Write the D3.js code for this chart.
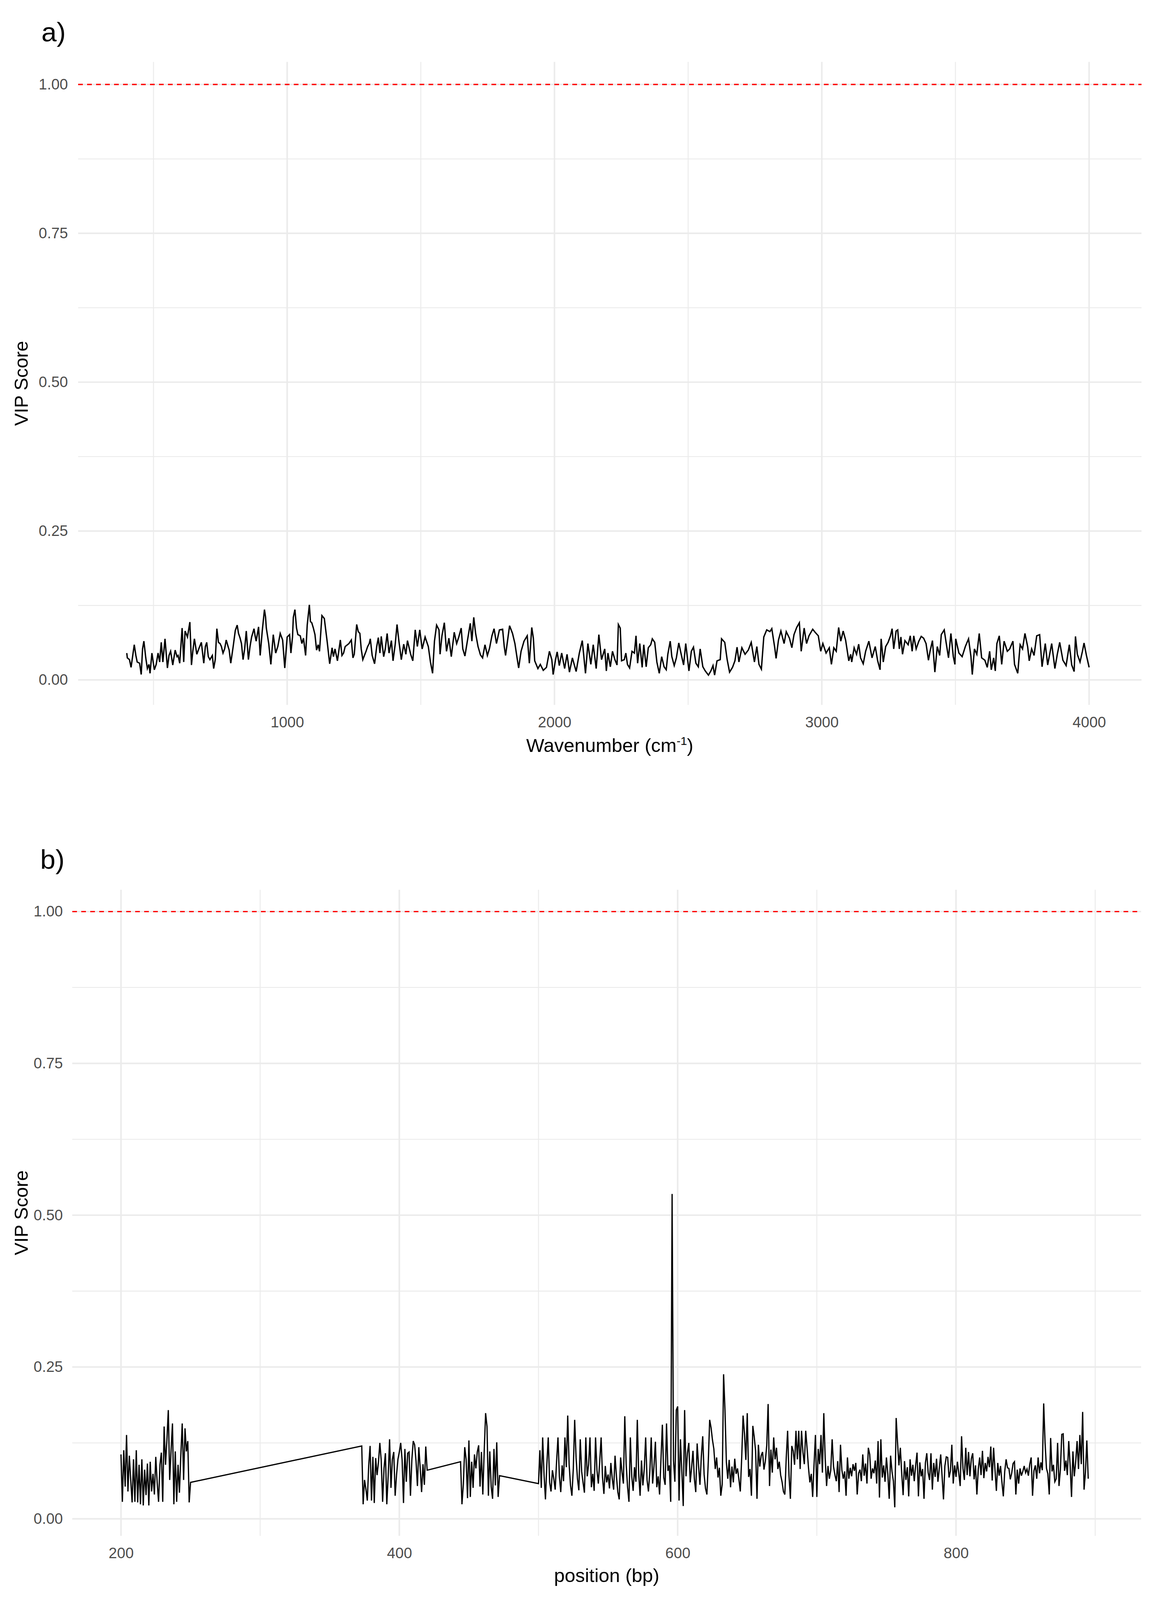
<!DOCTYPE html>
<html lang="en">
<head>
  <meta charset="UTF-8">
  <title>VIP Scores</title>
  <script src="https://d3js.org/d3.v7.min.js"></script>
  <style>
    html, body { margin: 0; padding: 0; background: #fff; overflow: hidden; }
    svg { display: block; }
    svg text { font-family: "Liberation Sans", Arial, sans-serif; }
  </style>
</head>
<body>
  <svg id="chart" viewBox="0 0 2954 4138" preserveAspectRatio="none"></svg>

  <script>
    // ---- panel a: wavenumber vs VIP score ----
    const wavenumberA = [
      400,402,410,416,428,434,439,448,454,459,
      464,471,477,483,487,494,503,510,517,523,
      529,535,543,552,558,564,572,581,588,592,
      598,607,613,618,627,636,642,647,653,662,
      671,679,688,694,699,705,711,720,725,731,
      737,743,749,754,760,766,772,777,783,789,
      798,806,813,818,824,829,835,841,847,855,
      861,867,876,880,884,893,899,907,915,919,
      922,931,939,948,957,965,974,983,991,1000,
      1009,1014,1020,1023,1029,1035,1040,1049,1055,1061,
      1069,1075,1083,1087,1092,1098,1104,1110,1116,1121,
      1130,1139,1145,1150,1159,1168,1173,1179,1188,1199,
      1205,1211,1217,1231,1240,1246,1251,1260,1266,1272,
      1277,1283,
      1295,1301,1307,1311,1318,1327,1335,1341,1347,1352,
      1361,1367,1374,1381,1390,1396,1404,1411,1418,1427,
      1436,1444,1450,1462,1470,1479,1487,1496,1505,1516,
      1528,1536,1544,1551,1559,1568,1572,1579,1588,1596,
      1605,1614,1625,1634,1642,1651,1657,1665,1674,1685,
      1691,1698,1705,1714,1723,1731,1740,1749,1757,1766,
      1774,1783,1794,1806,1812,1817,1832,1843,1852,1860,
      1866,1875,1886,1898,1906,1915,1921,1926,1938,1947,
      1958,1970,1981,1990,1995,2004,2010,2018,2027,2038,
      2047,2056,2067,2081,2093,2104,2116,2125,2136,2145,
      2156,2166,2176,2188,
      2194,2200,2209,2217,2226,2234,2239,2246,2251,2261,
      2267,2273,2281,2290,2299,2305,2311,2319,2328,2334,
      2343,2351,2360,2366,2375,2383,2392,2401,2410,2418,
      2424,2433,2439,2448,2456,2465,2474,2483,2491,2503,
      2512,2520,2529,2538,2545,2555,2564,2576,2585,2593,
      2599,2608,2620,2625,2637,2646,2655,2666,2675,2683,
      2690,2701,2713,2725,2736,2748,2757,2765,2774,2783,
      2794,2806,2813,2824,2829,2838,2847,2859,2867,2879,
      2888,2896,2906,2916,2923,2934,2943,2952,2966,2975,
      2987,2996,3004,3016,3028,3036,3045,3054,3063,3071,
      3080,3089,3101,
      3108,3112,3121,3130,3138,3145,3155,3164,3176,3188,
      3200,3209,3218,3222,3230,3239,3248,3257,3263,3269,
      3278,3284,3290,3296,3302,3311,3323,3331,3338,3344,
      3353,3363,3372,3381,3390,3399,3405,3414,3423,3432,
      3441,3447,3458,3465,3474,3483,3492,3498,3501,3513,
      3525,3537,3549,3558,3563,3571,3580,3589,3598,3610,
      3619,3628,3634,3643,3649,3655,3664,3673,3682,3694,
      3703,3715,3721,3733,3742,3751,3760,3770,3776,3785,
      3794,3804,3815,3824,3836,3845,3860,3872,3881,3890,
      3902,3914,3926,3935,3944,3949,3956,3966,3975,3981,
      3990,4000
    ];
    const vipA = [
      .045,.037,.034,.021,.059,.041,.030,.028,.009,.052,
      .065,.037,.019,.026,.011,.045,.017,.026,.045,.030,
      .063,.030,.069,.020,.041,.048,.025,.050,.039,.041,
      .028,.087,.030,.082,.072,.097,.025,.048,.069,.043,
      .054,.063,.028,.056,.063,.039,.034,.041,.019,.034,
      .086,.063,.061,.056,.045,.052,.067,.059,.050,.028,
      .056,.083,.092,.078,.070,.061,.034,.052,.082,.034,
      .056,.072,.086,.074,.065,.089,.041,.083,.118,.106,
      .087,.061,.026,.076,.045,.056,.078,.067,.020,.072,
      .076,.045,.072,.105,.118,.087,.076,.074,.061,.070,
      .041,.092,.126,.098,.096,.087,.076,.050,.059,.048,
      .108,.103,.081,.063,.027,.054,.039,.052,.032,.067,
      .041,.045,.056,.061,.067,.037,.043,.093,.081,.078,
      .052,.034,
      .048,.056,.061,.069,.041,.027,.056,.071,.045,.073,
      .039,.052,.078,.045,.066,.032,.059,.093,.065,.034,
      .060,.043,.066,.043,.032,.084,.056,.084,.052,.072,
      .056,.030,.011,.065,.092,.084,.043,.074,.096,.048,
      .070,.039,.080,.061,.072,.087,.052,.040,.065,.095,
      .065,.105,.078,.056,.042,.037,.059,.041,.053,.074,
      .086,.061,.084,.085,.056,.041,.091,.078,.061,.037,
      .020,.048,.065,.074,.028,.088,.070,.032,.019,.026,
      .016,.021,.048,.034,.009,.034,.047,.024,.045,.019,
      .043,.013,.037,.014,.045,.066,.011,.061,.026,.059,
      .019,.076,.034,.052,
      .015,.045,.022,.048,.034,.025,.093,.087,.032,.034,
      .045,.026,.020,.048,.045,.074,.028,.061,.021,.059,
      .022,.054,.059,.069,.063,.030,.011,.039,.022,.017,
      .043,.065,.039,.024,.037,.062,.043,.025,.061,.015,
      .048,.055,.028,.022,.052,.022,.015,.008,.015,.024,
      .008,.032,.034,.069,.063,.034,.013,.021,.032,.055,
      .030,.054,.043,.050,.063,.030,.056,.026,.018,.072,
      .084,.081,.086,.054,.036,.067,.082,.061,.081,.070,
      .054,.076,.088,.096,.048,.087,.061,.074,.085,.080,
      .074,.048,.061,.045,.054,.026,.054,.048,.088,.065,
      .082,.067,.032,
      .043,.030,.054,.043,.060,.037,.027,.048,.065,.037,
      .056,.032,.017,.069,.030,.056,.063,.074,.086,.052,
      .082,.084,.052,.072,.043,.066,.059,.074,.048,.074,
      .052,.065,.073,.070,.061,.033,.048,.066,.013,.056,
      .041,.076,.084,.063,.037,.078,.039,.026,.069,.045,
      .039,.056,.069,.039,.009,.052,.043,.078,.037,.033,
      .021,.048,.017,.037,.015,.061,.074,.026,.065,.048,
      .052,.065,.026,.011,.059,.052,.078,.056,.032,.052,
      .041,.074,.076,.022,.061,.025,.061,.019,.043,.063,
      .033,.024,.059,.025,.014,.073,.043,.030,.048,.062,
      .041,.021
    ];

    // ---- panel b: position (bp) vs VIP score, four runs of consecutive positions ----
    const segStartsB = [200, 373, 444, 500];
    const vipB1 = [
      .106,.028,.113,.053,.138,.045,.104,.064,.027,.098,
      .028,.113,.027,.089,.024,.098,.022,.081,.039,.091,
      .022,.094,.045,.074,.040,.102,.060,.028,.089,.109,
      .028,.152,.089,.130,.179,.064,.113,.157,.024,.111,
      .028,.089,.043,.105,.157,.064,.149,.111,.128,.027,
      .060
    ];
    const vipB2 = [
      .120,.024,.064,.049,.030,.088,.120,.030,.102,.026,
      .100,.072,.093,.125,.096,.028,.083,.108,.024,.071,
      .131,.051,.098,.110,.038,.072,.098,.110,.125,.097,
      .026,.115,.061,.108,.110,.038,.097,.128,.122,.095,
      .054,.118,.084,.044,.090,.056,.119,.080
    ];
    const vipB3 = [
      .094,.024,.057,.118,.098,.034,.129,.036,.094,.051,
      .106,.083,.110,.121,.053,.110,.040,.112,.174,.152,
      .038,.111,.053,.033,.115,.055,.126,.036,.071
    ];
    const vipB4 = [
      .058,.113,.051,.134,.072,.032,.090,.134,.060,.045,
      .080,.066,.048,.095,.134,.070,.044,.088,.062,.134,
      .085,.170,.090,.055,.038,.082,.163,.101,.066,.047,
      .131,.078,.060,.043,.134,.070,.089,.134,.052,.074,
      .046,.134,.080,.058,.095,.134,.068,.041,.087,.060,
      .073,.050,.092,.066,.048,.104,.070,.044,.032,.101,
      .077,.058,.169,.090,.052,.028,.134,.070,.046,.085,
      .061,.163,.075,.038,.096,.055,.082,.134,.064,.045,
      .078,.134,.058,.087,.127,.052,.070,.040,.098,.155,
      .068,.056,.157,.079,.088,.028,.535,.096,.061,.179,
      .185,.030,.131,.078,.021,.179,.070,.108,.125,.060,
      .084,.112,.066,.044,.124,.088,.056,.102,.136,.073,
      .050,.040,.094,.163,.150,.130,.115,.082,.101,.068,
      .084,.038,.057,.238,.179,.093,.066,.097,.052,.086,
      .060,.099,.074,.083,.065,.045,.100,.170,.140,.097,
      .174,.069,.082,.038,.153,.135,.112,.033,.122,.086,
      .104,.110,.081,.095,.121,.189,.054,.114,.076,.134,
      .098,.117,.082,.094,.072,.061,.045,.040,.100,.145,
      .071,.033,.120,.112,.089,.145,.098,.145,.082,.145,
      .110,.090,.145,.116,.084,.060,.074,.036,.090,.138,
      .036,.115,.090,.138,.076,.174,.100,.054,.087,.066,
      .080,.131,.086,.072,.062,.095,.044,.122,.080,.066,
      .078,.038,.101,.066,.084,.070,.090,.079,.092,.040,
      .075,.081,.062,.106,.071,.091,.058,.117,.106,.066,
      .083,.075,.096,.058,.128,.035,.131,.068,.088,.061,
      .101,.074,.033,.104,.078,.062,.019,.166,.125,.088,
      .117,.074,.039,.095,.064,.085,.037,.098,.071,.089,
      .062,.088,.109,.037,.093,.070,.082,.033,.092,.108,
      .076,.064,.108,.048,.092,.069,.099,.061,.083,.106,
      .070,.032,.087,.102,.101,.068,.079,.122,.058,.088,
      .069,.094,.075,.054,.136,.083,.064,.117,.072,.110,
      .070,.099,.108,.065,.088,.040,.082,.101,.072,.112,
      .067,.092,.078,.102,.085,.119,.063,.117,.081,.046,
      .092,.071,.087,.060,.037,.078,.098,.084,.083,.065,
      .075,.091,.094,.040,.081,.058,.083,.071,.078,.087,
      .076,.082,.071,.090,.101,.038,.079,.088,.066,.101,
      .075,.093,.080,.190,.125,.083,.074,.040,.133,.078,
      .089,.061,.066,.125,.054,.081,.139,.140,.079,.096,
      .072,.128,.088,.036,.111,.070,.094,.128,.082,.138,
      .090,.176,.048,.076,.129,.066
    ];

    const yTicks = [0, 0.25, 0.5, 0.75, 1];
    const yMinor = [0.125, 0.375, 0.625, 0.875];
    const xTicksA = [1000, 2000, 3000, 4000];
    const xMinorA = [500, 1500, 2500, 3500];
    const xTicksB = [200, 400, 600, 800];
    const xMinorB = [300, 500, 700, 900];
    const threshold = 1;

    const dataA = wavenumberA.map((w, i) => [w, vipA[i]]);
    const dataB = [];
    [vipB1, vipB2, vipB3, vipB4].forEach((vals, s) => {
      vals.forEach((v, i) => dataB.push([segStartsB[s] + i, v]));
    });

    // the window is a little shorter than the figure, so fit the drawing to it
    const svg = d3.select("#chart")
      .attr("width", window.innerWidth || 2954)
      .attr("height", window.innerHeight || 4138);
    svg.append("rect").attr("width", 2954).attr("height", 4138).attr("fill", "#fff");

    const grid = "#ebebeb";

    function drawPanel(p) {
      const x = d3.scaleLinear().domain(p.xDomain).range([p.left, p.right]);
      const y = d3.scaleLinear().domain(p.yDomain).range([p.bottom, p.top]);
      const g = svg.append("g");

      // grid lines (minor thinner than major)
      const vlines = (vals, w) => g.append("g").selectAll("line").data(vals).enter().append("line")
        .attr("x1", d => x(d)).attr("x2", d => x(d))
        .attr("y1", p.top).attr("y2", p.bottom)
        .attr("stroke", grid).attr("stroke-width", w);
      const hlines = (vals, w) => g.append("g").selectAll("line").data(vals).enter().append("line")
        .attr("x1", p.left).attr("x2", p.right)
        .attr("y1", d => y(d)).attr("y2", d => y(d))
        .attr("stroke", grid).attr("stroke-width", w);
      vlines(p.xMinor, 2.4);
      hlines(yMinor, 2.4);
      vlines(p.xTicks, 4);
      hlines(yTicks, 4);

      // dashed threshold
      g.append("line")
        .attr("x1", p.left).attr("x2", p.right)
        .attr("y1", y(threshold)).attr("y2", y(threshold))
        .attr("stroke", "#ff0000").attr("stroke-width", 3.5)
        .attr("stroke-dasharray", "12 11");

      // VIP line
      const line = d3.line().x(d => x(d[0])).y(d => y(d[1]));
      g.append("path").datum(p.data)
        .attr("d", line)
        .attr("fill", "none")
        .attr("stroke", "#000")
        .attr("stroke-width", p.lineWidth)
        .attr("stroke-linejoin", "miter");

      // axes (labels only, theme_minimal style)
      const ax = g.append("g").attr("transform", `translate(0,${p.bottom})`)
        .call(d3.axisBottom(x).tickValues(p.xTicks).tickSize(0).tickPadding(31).tickFormat(d3.format("d")));
      const ay = g.append("g").attr("transform", `translate(${p.left},0)`)
        .call(d3.axisLeft(y).tickValues(yTicks).tickSize(0).tickPadding(p.yPad).tickFormat(d3.format(".2f")));
      [ax, ay].forEach(a => {
        a.select(".domain").remove();
        a.attr("font-family", "Liberation Sans, Arial, sans-serif").attr("font-size", 38.5);
        a.selectAll("text").attr("fill", "#4d4d4d");
      });

      // y title
      g.append("text")
        .attr("transform", `translate(71,${(p.top + p.bottom) / 2}) rotate(-90)`)
        .attr("text-anchor", "middle")
        .attr("font-size", 49)
        .attr("fill", "#000")
        .text("VIP Score");

      // x title
      const xt = g.append("text")
        .attr("x", (p.left + p.right) / 2)
        .attr("y", p.titleY)
        .attr("text-anchor", "middle")
        .attr("font-size", 49)
        .attr("fill", "#000");
      p.xTitle(xt);

      // panel tag
      g.append("text")
        .attr("x", p.tagX).attr("y", p.tagY)
        .attr("font-size", 70)
        .attr("fill", "#000")
        .text(p.tag);
    }

    drawPanel({
      xDomain: [218, 4196], left: 200, right: 2922,
      yDomain: [-0.042, 1.038], bottom: 1823, top: 160,
      xTicks: xTicksA, xMinor: xMinorA,
      data: dataA, yPad: 26, titleY: 1945, lineWidth: 3.5,
      tag: "a)", tagX: 106, tagY: 107,
      xTitle: t => {
        t.append("tspan").text("Wavenumber (cm");
        t.append("tspan").attr("font-size", 30).attr("dy", -18).text("-1");
        t.append("tspan").attr("dy", 18).text(")");
      }
    });

    drawPanel({
      xDomain: [165, 933], left: 185, right: 2921,
      yDomain: [-0.028, 1.036], bottom: 3972, top: 2301,
      xTicks: xTicksB, xMinor: xMinorB,
      data: dataB, yPad: 24, titleY: 4092, lineWidth: 3.2,
      tag: "b)", tagX: 103, tagY: 2247,
      xTitle: t => t.text("position (bp)")
    });
  </script>
</body>
</html>
